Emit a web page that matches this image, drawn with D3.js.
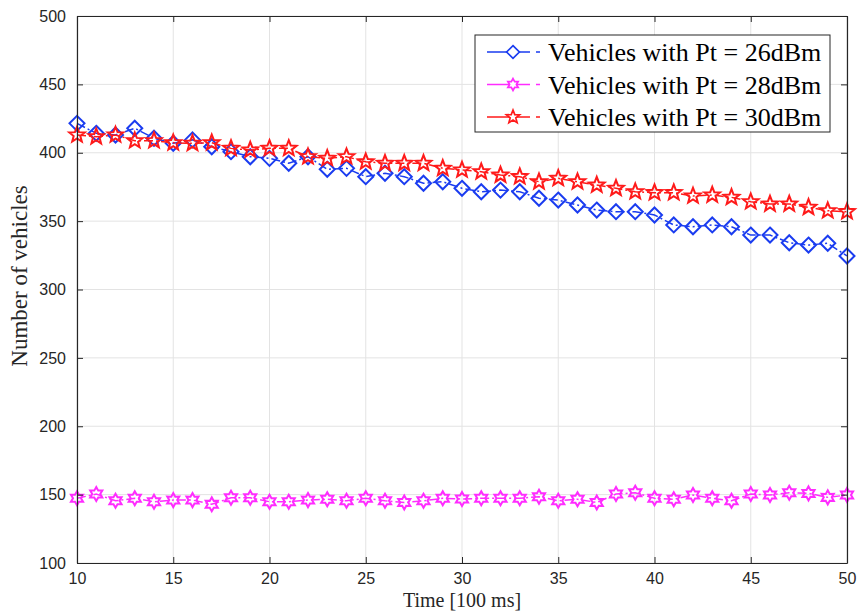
<!DOCTYPE html>
<html lang="en">
<head>
<meta charset="utf-8">
<script src="https://d3js.org/d3.v7.min.js"></script>
<style>
  body { margin: 0; background: #fff; }
</style>
<title>Number of vehicles</title>
</head>
<body>
<script>
// data
var times = d3.range(10, 51);
var pt26 = [421.5, 414.2, 413.0, 417.9, 410.6, 406.9, 409.4, 404.4, 400.8, 397.1,
            395.9, 392.3, 397.1, 387.9, 388.6, 382.5, 385.0, 382.5, 377.7, 378.8,
            374.0, 371.5, 372.7, 371.5, 366.7, 365.4, 361.8, 358.1, 356.9, 356.9,
            354.5, 347.2, 345.9, 347.2, 345.9, 339.8, 339.8, 334.2, 332.5, 333.8, 324.5];
var pt28 = [147.3, 150.4, 145.5, 147.3, 144.8, 146.0, 146.0, 142.9, 147.7, 147.7,
            144.8, 144.8, 146.0, 146.6, 145.5, 147.3, 145.5, 144.3, 145.5, 147.3,
            146.8, 147.3, 147.3, 147.3, 148.5, 145.5, 146.6, 144.3, 150.4, 151.4,
            147.3, 146.6, 149.7, 147.3, 145.5, 150.4, 149.7, 151.4, 150.9, 148.0, 149.7];
var pt30 = [413.0, 411.7, 413.0, 408.8, 408.8, 407.3, 406.9, 407.3, 403.2, 402.0,
            403.2, 403.2, 397.1, 395.9, 397.1, 393.4, 392.3, 392.3, 392.3, 388.6,
            387.4, 386.1, 383.7, 382.5, 378.8, 381.3, 378.8, 376.4, 374.0, 371.5,
            370.8, 370.8, 368.4, 369.1, 367.4, 364.2, 362.5, 362.5, 360.1, 357.6, 356.9];
var seriesNames = ["Vehicles with Pt = 26dBm", "Vehicles with Pt = 28dBm", "Vehicles with Pt = 30dBm"];
var xTicks = [10, 15, 20, 25, 30, 35, 40, 45, 50];
var yTicks = [100, 150, 200, 250, 300, 350, 400, 450, 500];

var width = 861, height = 615;
var margin = {left: 77, top: 16, right: 14, bottom: 52};

var svg = d3.select("body").append("svg")
  .attr("width", width)
  .attr("height", height);

var x = d3.scaleLinear().domain([10, 50]).range([margin.left, width - margin.right]);
var y = d3.scaleLinear().domain([100, 500]).range([height - margin.bottom, margin.top]);

// marker shapes
function diamond(r) {
  return "M0," + (-r) + "L" + r + ",0L0," + r + "L" + (-r) + ",0Z";
}
function starPath(n, ro, ri) {
  var pts = [];
  for (var k = 0; k < 2 * n; k++) {
    var a = -Math.PI / 2 + k * Math.PI / n;
    var rr = k % 2 == 0 ? ro : ri;
    pts.push([rr * Math.cos(a), rr * Math.sin(a)]);
  }
  return "M" + pts.map(function(p) { return p[0].toFixed(2) + "," + p[1].toFixed(2); }).join("L") + "Z";
}

var series = [
  {name: seriesNames[0], values: pt26, color: "#1a3cf0", marker: diamond(7.5)},
  {name: seriesNames[1], values: pt28, color: "#ff2cff", marker: starPath(6, 7, 4)},
  {name: seriesNames[2], values: pt30, color: "#ff1a1a", marker: starPath(5, 8.2, 3.5)}
];

// grid
svg.append("g").selectAll("line").data(xTicks).enter().append("line")
  .attr("x1", function(d) { return x(d); }).attr("x2", function(d) { return x(d); })
  .attr("y1", y(100)).attr("y2", y(500))
  .style("stroke", "#e3e3e3").style("stroke-width", 1);
svg.append("g").selectAll("line").data(yTicks).enter().append("line")
  .attr("y1", function(d) { return y(d); }).attr("y2", function(d) { return y(d); })
  .attr("x1", x(10)).attr("x2", x(50))
  .style("stroke", "#e3e3e3").style("stroke-width", 1);

// lines and markers
var line = d3.line()
  .x(function(d, i) { return x(times[i]); })
  .y(function(d) { return y(d); });

series.forEach(function(s) {
  svg.append("path")
    .datum(s.values)
    .attr("d", line)
    .style("fill", "none")
    .style("stroke", s.color)
    .style("stroke-width", 1.5)
    .style("stroke-dasharray", "9,3,2,3");
  svg.append("g").selectAll("path").data(s.values).enter().append("path")
    .attr("d", s.marker)
    .attr("transform", function(d, i) { return "translate(" + x(times[i]) + "," + y(d) + ")"; })
    .style("fill", "none")
    .style("stroke", s.color)
    .style("stroke-width", 2);
});

// axes
var xAxis = d3.axisBottom(x).tickValues(xTicks).tickSizeInner(-6).tickSizeOuter(0).tickPadding(10);
var yAxis = d3.axisLeft(y).tickValues(yTicks).tickSizeInner(-6).tickSizeOuter(0).tickPadding(10);

var gx = svg.append("g").attr("transform", "translate(0," + y(100) + ")").call(xAxis);
var gy = svg.append("g").attr("transform", "translate(" + x(10) + ",0)").call(yAxis);
[gx, gy].forEach(function(g) {
  g.select(".domain").style("stroke", "#262626").style("stroke-width", 1.2);
  g.selectAll(".tick line").style("stroke", "#262626");
  g.selectAll(".tick text")
    .style("font-family", "'Liberation Sans', Arial, sans-serif")
    .style("font-size", "16px")
    .style("fill", "#262626");
});
gy.selectAll(".tick text").attr("dx", "-1");

// top and right box edges with ticks
var gt = svg.append("g").attr("transform", "translate(0," + y(500) + ")")
  .call(d3.axisTop(x).tickValues(xTicks).tickSizeInner(-6).tickSizeOuter(0).tickFormat(""));
var gr = svg.append("g").attr("transform", "translate(" + x(50) + ",0)")
  .call(d3.axisRight(y).tickValues(yTicks).tickSizeInner(-6).tickSizeOuter(0).tickFormat(""));
[gt, gr].forEach(function(g) {
  g.select(".domain").style("stroke", "#262626").style("stroke-width", 1.2);
  g.selectAll(".tick line").style("stroke", "#262626");
});

// axis labels
svg.append("text")
  .attr("x", (x(10) + x(50)) / 2)
  .attr("y", 607)
  .attr("text-anchor", "middle")
  .style("font-family", "'Liberation Serif', 'Times New Roman', serif")
  .style("font-size", "20px")
  .style("fill", "#262626")
  .text("Time [100 ms]");

svg.append("text")
  .attr("transform", "translate(27,276) rotate(-90)")
  .attr("text-anchor", "middle")
  .style("font-family", "'Liberation Serif', 'Times New Roman', serif")
  .style("font-size", "23px")
  .style("fill", "#262626")
  .text("Number of vehicles");

// legend
var legend = svg.append("g").attr("transform", "translate(475,35)");
legend.append("rect")
  .attr("width", 355)
  .attr("height", 97)
  .style("fill", "#fff")
  .style("stroke", "#262626")
  .style("stroke-width", 1);

var entry = legend.selectAll("g.entry").data(series).enter().append("g")
  .attr("class", "entry")
  .attr("transform", function(d, i) { return "translate(0," + (17 + i * 32.5) + ")"; });
entry.append("line")
  .attr("x1", 12).attr("x2", 65)
  .style("stroke", function(d) { return d.color; })
  .style("stroke-width", 1.5)
  .style("stroke-dasharray", "43,6,4");
entry.append("path")
  .attr("d", function(d) { return d.marker; })
  .attr("transform", "translate(38,0) scale(0.85)")
  .style("fill", "#fff")
  .style("stroke", function(d) { return d.color; })
  .style("stroke-width", 2);
entry.append("text")
  .attr("x", 73)
  .attr("dy", "0.35em")
  .style("font-family", "'Liberation Serif', 'Times New Roman', serif")
  .style("font-size", "26px")
  .style("fill", "#000")
  .text(function(d) { return d.name; });
</script>
</body>
</html>
